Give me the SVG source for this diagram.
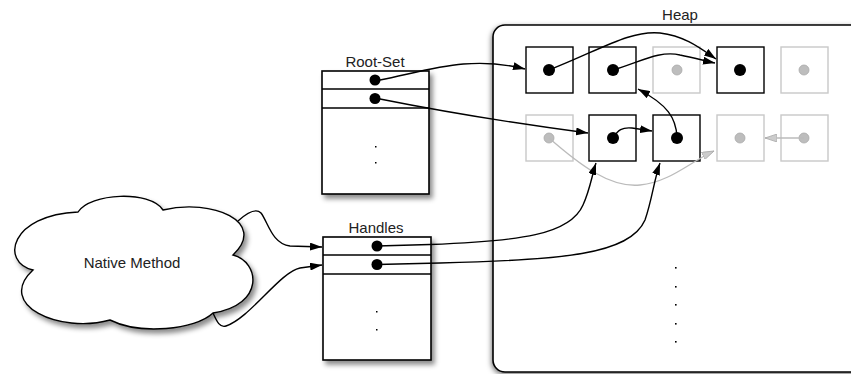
<svg xmlns="http://www.w3.org/2000/svg" width="851" height="374" viewBox="0 0 851 374">
<defs>
<filter id="sh" x="-20%" y="-20%" width="150%" height="150%"><feDropShadow dx="3" dy="4" stdDeviation="2.5" flood-color="#000" flood-opacity="0.45"/></filter>
<filter id="shh" x="-5%" y="-10%" width="120%" height="130%"><feDropShadow dx="-1" dy="2" stdDeviation="2.5" flood-color="#000" flood-opacity="0.5"/></filter>
<marker id="ah" viewBox="0 0 12 8" refX="12" refY="4" markerWidth="12" markerHeight="8" markerUnits="userSpaceOnUse" orient="auto"><path d="M0,0 L12,4 L0,8 Z" fill="#000"/></marker>
<marker id="ag" viewBox="0 0 12 8" refX="12" refY="4" markerWidth="12" markerHeight="8" markerUnits="userSpaceOnUse" orient="auto"><path d="M0,0 L12,4 L0,8 Z" fill="#ccc" stroke="#aaa" stroke-width="0.8"/></marker>
</defs>
<style>
text{font-family:"Liberation Sans",Arial,sans-serif;font-size:15px;fill:#222}
.box{fill:#fff;stroke:#000;stroke-width:1.6}
.ln{stroke:#000;stroke-width:1.4}
.cell{fill:#fff;stroke:#000;stroke-width:1.4}
.gcell{fill:#fff;stroke:#c8c8c8;stroke-width:1.4}
.dot{fill:#000}
.gdot{fill:#bdbdbd;stroke:#aaa;stroke-width:0.8}
.sd{fill:#000}
.c{fill:none;stroke:#000;stroke-width:1.4}
.cg{fill:none;stroke:#bbb;stroke-width:1.3}
</style>

<g id="heap">
<rect x="493" y="25" width="380" height="347" rx="12" fill="#fff" stroke="#000" stroke-width="1.6" filter="url(#shh)"/>
<text x="680" y="20" text-anchor="middle">Heap</text>
<g id="cells">
<rect class="cell" x="526" y="47" width="47" height="46"/><circle class="dot" cx="549" cy="70" r="6"/>
<rect class="cell" x="589" y="47" width="47" height="46"/><circle class="dot" cx="613" cy="70" r="6"/>
<rect class="gcell" x="653" y="47" width="47" height="46"/><circle class="gdot" cx="677" cy="70" r="5"/>
<rect class="cell" x="717" y="47" width="47" height="46"/><circle class="dot" cx="740" cy="70" r="6"/>
<rect class="gcell" x="781" y="47" width="47" height="46"/><circle class="gdot" cx="804" cy="70" r="5"/>
<rect class="gcell" x="526" y="115" width="47" height="46"/><circle class="gdot" cx="549" cy="138" r="5"/>
<rect class="cell" x="589" y="115" width="47" height="46"/><circle class="dot" cx="613" cy="138" r="6"/>
<rect class="cell" x="653" y="115" width="47" height="46"/><circle class="dot" cx="677" cy="138" r="6"/>
<rect class="gcell" x="717" y="115" width="47" height="46"/><circle class="gdot" cx="740" cy="138" r="5"/>
<rect class="gcell" x="781" y="115" width="47" height="46"/><circle class="gdot" cx="804" cy="138" r="5"/>
</g>
<rect class="sd" x="675" y="267" width="1.6" height="1.6"/>
<rect class="sd" x="675" y="286" width="1.6" height="1.6"/>
<rect class="sd" x="675" y="304" width="1.6" height="1.6"/>
<rect class="sd" x="675" y="323" width="1.6" height="1.6"/>
<rect class="sd" x="675" y="341" width="1.6" height="1.6"/>
</g>

<g id="rootset">
<rect class="box" x="322" y="71" width="107" height="123" filter="url(#sh)"/>
<line class="ln" x1="322" y1="89" x2="429" y2="89"/>
<line class="ln" x1="322" y1="108" x2="429" y2="108"/>
<circle class="dot" cx="375" cy="80" r="5.5"/>
<circle class="dot" cx="375" cy="98.5" r="5.5"/>
<rect class="sd" x="375" y="146" width="1.5" height="1.5"/>
<rect class="sd" x="375" y="162" width="1.5" height="1.5"/>
<text x="375" y="67" text-anchor="middle">Root-Set</text>
</g>

<g id="handles">
<rect class="box" x="323" y="237" width="108" height="123" filter="url(#sh)"/>
<line class="ln" x1="323" y1="255" x2="431" y2="255"/>
<line class="ln" x1="323" y1="274" x2="431" y2="274"/>
<circle class="dot" cx="377" cy="246" r="5.5"/>
<circle class="dot" cx="377" cy="264.5" r="5.5"/>
<rect class="sd" x="376" y="311" width="1.5" height="1.5"/>
<rect class="sd" x="376" y="329" width="1.5" height="1.5"/>
<text x="376" y="233" text-anchor="middle">Handles</text>
</g>

<g id="native">
<path d="M33,270 C0,262 10,215 78,212 C90,193 150,190 163,210 C212,198 268,222 233,255 C260,262 265,305 213,313 C195,330 140,335 110,320 C60,334 -5,305 33,270 Z" fill="#fff" stroke="#000" stroke-width="1.4" filter="url(#sh)"/>
<text x="132" y="268" text-anchor="middle">Native Method</text>
</g>

<g id="connectors">
<path class="c" d="M380,80 C430,70 470,55 525,69" marker-end="url(#ah)"/>
<path class="c" d="M380,99 C440,111 520,124 588,133" marker-end="url(#ah)"/>
<path class="c" d="M549,70 C600,50 630,30 660,33 C685,36 700,48 716,59" marker-end="url(#ah)"/>
<path class="c" d="M613,70 C640,62 660,50 680,55 C695,58 705,61 715,63" marker-end="url(#ah)"/>
<path class="c" d="M613,138 C618,130 622,127 632,128 L652,131" marker-end="url(#ah)"/>
<path class="c" d="M677,137 C676,118 668,105 638,89" marker-end="url(#ah)"/>
<path class="cg" d="M804,138 L765,138" marker-end="url(#ag)"/>
<path class="cg" d="M549,138 C580,165 610,188 640,185 C670,182 690,162 714,151" marker-end="url(#ag)"/>
<path class="c" d="M377,246 L430,244.5 C520,241 570,235 583,205 C590,190 592,175 596,163" marker-end="url(#ah)"/>
<path class="c" d="M377,264.5 L440,263 C560,260 630,255 645,220 C652,200 654,180 660,163" marker-end="url(#ah)"/>
<path class="c" d="M238,221 C248,212 256,208 261,213 C268,222 272,244 290,246 L322,247" marker-end="url(#ah)"/>
<path class="c" d="M213,313 C217,322 220,328 226,326 C250,318 280,272 300,268 L322,265" marker-end="url(#ah)"/>
</g>
</svg>
